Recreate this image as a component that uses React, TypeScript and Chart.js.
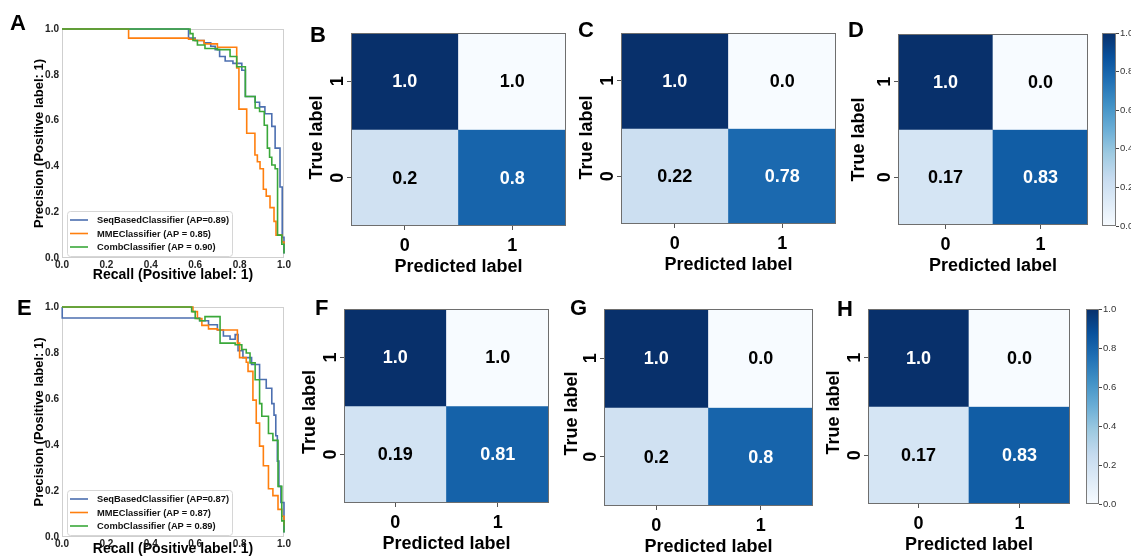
import React, { useEffect, useRef } from "react";
import { Chart, registerables } from "chart.js";

Chart.register(...registerables);

const FONT = "'Liberation Sans', Arial, Helvetica, sans-serif";
Chart.defaults.font.family = FONT;
Chart.defaults.color = "#000";

// ---------------- DATA ----------------
const PR_TICKS = [0, 0.2, 0.4, 0.6, 0.8, 1.0];
const CB_TICKS = [0, 0.2, 0.4, 0.6, 0.8, 1.0];
const PRED_LABELS = ["0", "1"];
const TRUE_LABELS = [1, 0]; // top row, bottom row

const LEGEND_TOP = ["SeqBasedClassifier (AP=0.89)", "MMEClassifier (AP = 0.85)", "CombClassifier (AP = 0.90)"];
const LEGEND_BOTTOM = ["SeqBasedClassifier (AP=0.87)", "MMEClassifier (AP = 0.87)", "CombClassifier (AP = 0.89)"];

const A_SEQ_R = [0, 0.57, 0.6, 0.64, 0.67, 0.69, 0.71, 0.735, 0.77, 0.81, 0.826, 0.87, 0.89, 0.914, 0.945, 0.96, 0.982, 0.992, 1.0];
const A_SEQ_P = [1.0, 0.96, 0.95, 0.94, 0.925, 0.91, 0.88, 0.86, 0.85, 0.82, 0.705, 0.68, 0.66, 0.63, 0.575, 0.48, 0.31, 0.09, 0.02];
const A_MME_R = [0, 0.3, 0.57, 0.6, 0.64, 0.7, 0.787, 0.797, 0.832, 0.869, 0.88, 0.892, 0.907, 0.92, 0.937, 0.955, 0.964, 0.99, 1.0];
const A_MME_P = [1.0, 0.96, 0.955, 0.95, 0.935, 0.92, 0.83, 0.65, 0.545, 0.45, 0.42, 0.39, 0.3, 0.27, 0.22, 0.16, 0.1, 0.07, 0.06];
const A_COMB_R = [0, 0.577, 0.59, 0.61, 0.644, 0.7, 0.757, 0.787, 0.826, 0.87, 0.89, 0.911, 0.925, 0.935, 0.945, 0.96, 0.971, 0.99, 1.0];
const A_COMB_P = [1.0, 0.98, 0.95, 0.93, 0.915, 0.91, 0.88, 0.835, 0.705, 0.655, 0.64, 0.58, 0.48, 0.44, 0.406, 0.39, 0.1, 0.06, 0.02];

const E_SEQ_R = [0, 0.001, 0.62, 0.66, 0.7, 0.727, 0.757, 0.78, 0.793, 0.815, 0.854, 0.89, 0.92, 0.945, 0.955, 0.963, 0.97, 0.977, 0.986, 1.0];
const E_SEQ_P = [1.0, 0.952, 0.94, 0.923, 0.9, 0.874, 0.86, 0.88, 0.81, 0.78, 0.75, 0.685, 0.647, 0.58, 0.53, 0.44, 0.33, 0.22, 0.15, 0.02];
const E_MME_R = [0, 0.59, 0.61, 0.63, 0.66, 0.7, 0.79, 0.8, 0.83, 0.838, 0.86, 0.875, 0.89, 0.907, 0.93, 0.95, 0.973, 0.99, 1.0];
const E_MME_P = [1.0, 0.98, 0.95, 0.92, 0.905, 0.9, 0.843, 0.78, 0.76, 0.72, 0.595, 0.495, 0.395, 0.31, 0.21, 0.18, 0.12, 0.09, 0.05];
const E_COMB_R = [0, 0.584, 0.6, 0.62, 0.644, 0.712, 0.78, 0.81, 0.83, 0.847, 0.87, 0.89, 0.9, 0.93, 0.95, 0.973, 0.99, 1.0];
const E_COMB_P = [1.0, 0.98, 0.95, 0.94, 0.958, 0.843, 0.836, 0.815, 0.8, 0.757, 0.684, 0.58, 0.525, 0.45, 0.42, 0.22, 0.07, 0.02];

// confusion matrices: rows = TRUE_LABELS order (1 on top, 0 below), cols = PRED_LABELS
const B_TEXT = [["1.0", "1.0"], ["0.2", "0.8"]];
const B_SHADE = [[1.0, 0.0], [0.2, 0.8]];
const C_TEXT = [["1.0", "0.0"], ["0.22", "0.78"]];
const C_SHADE = [[1.0, 0.0], [0.22, 0.78]];
const D_TEXT = [["1.0", "0.0"], ["0.17", "0.83"]];
const D_SHADE = [[1.0, 0.0], [0.17, 0.83]];
const F_TEXT = [["1.0", "1.0"], ["0.19", "0.81"]];
const F_SHADE = [[1.0, 0.0], [0.19, 0.81]];
const G_TEXT = [["1.0", "0.0"], ["0.2", "0.8"]];
const G_SHADE = [[1.0, 0.0], [0.2, 0.8]];
const H_TEXT = [["1.0", "0.0"], ["0.17", "0.83"]];
const H_SHADE = [[1.0, 0.0], [0.17, 0.83]];

// ---------------- STYLE ----------------
const LINE_COLORS = ["#4c6fb0", "#ff7f0e", "#3aa83a"];
const BLUES = ["#f7fbff", "#deebf7", "#c6dbef", "#9ecae1", "#6baed6", "#4292c6", "#2171b5", "#08519c", "#08306b"];

function hexToRgb(h: string) {
  const n = parseInt(h.slice(1), 16);
  return [(n >> 16) & 255, (n >> 8) & 255, n & 255];
}
function blues(v: number) {
  const t = Math.max(0, Math.min(1, v)) * (BLUES.length - 1);
  const i = Math.min(Math.floor(t), BLUES.length - 2);
  const f = t - i;
  const a = hexToRgb(BLUES[i]);
  const b = hexToRgb(BLUES[i + 1]);
  const c = a.map((x, k) => Math.round(x + (b[k] - x) * f));
  return `rgb(${c[0]},${c[1]},${c[2]})`;
}

type Rect = { x: number; y: number; w: number; h: number };
type Area = { l: number; t: number; r: number; b: number };

function drawLetter(chart: any, letter: string, lx: number, ly: number, cx: number, cy: number) {
  const ctx = chart.ctx;
  ctx.save();
  ctx.font = `bold 22px ${FONT}`;
  ctx.fillStyle = "#000";
  ctx.textAlign = "left";
  ctx.textBaseline = "alphabetic";
  ctx.fillText(letter, lx - cx, ly - cy);
  ctx.restore();
}

// ---------------- PR PANELS ----------------
const prPlugin = {
  id: "prDecor",
  beforeDatasetsDraw(chart: any) {
    const { ctx, chartArea: a } = chart;
    ctx.save();
    ctx.strokeStyle = "#cfcfcf";
    ctx.lineWidth = 1;
    ctx.strokeRect(a.left + 0.5, a.top + 0.5, a.right - a.left - 1, a.bottom - a.top - 1);
    ctx.restore();
  },
  afterDatasetsDraw(chart: any, _args: any, opts: any) {
    const { ctx, chartArea: a } = chart;
    ctx.save();
    const bx = a.left + 5, by = a.bottom - 47, bw = 165, bh = 45;
    ctx.fillStyle = "rgba(255,255,255,0.85)";
    ctx.strokeStyle = "#d6d6d6";
    ctx.lineWidth = 1;
    ctx.beginPath();
    (ctx as any).roundRect ? ctx.roundRect(bx + 0.5, by + 0.5, bw, bh, 3) : ctx.rect(bx + 0.5, by + 0.5, bw, bh);
    ctx.fill();
    ctx.stroke();
    ctx.font = `bold 9.3px ${FONT}`;
    ctx.textBaseline = "middle";
    ctx.textAlign = "left";
    opts.labels.forEach((lab: string, k: number) => {
      const yy = by + 9 + k * 13.5;
      ctx.strokeStyle = LINE_COLORS[k];
      ctx.lineWidth = 1.6;
      ctx.beginPath();
      ctx.moveTo(bx + 3, yy);
      ctx.lineTo(bx + 21, yy);
      ctx.stroke();
      ctx.fillStyle = "#111";
      ctx.fillText(lab, bx + 30, yy + 0.5);
    });
    ctx.restore();
    drawLetter(chart, opts.letter, opts.lx, opts.ly, opts.cx, opts.cy);
  },
};

type PRPanel = {
  letter: string; lx: number; ly: number; canvas: Rect; area: Area;
  series: { r: number[]; p: number[] }[]; legend: string[];
};

const PR_PANELS: PRPanel[] = [
  {
    letter: "A", lx: 10, ly: 30,
    canvas: { x: 0, y: 0, w: 295, h: 284 }, area: { l: 62, t: 29, r: 284, b: 258 },
    series: [{ r: A_SEQ_R, p: A_SEQ_P }, { r: A_MME_R, p: A_MME_P }, { r: A_COMB_R, p: A_COMB_P }],
    legend: LEGEND_TOP,
  },
  {
    letter: "E", lx: 17, ly: 315,
    canvas: { x: 0, y: 284, w: 295, h: 274 }, area: { l: 62, t: 307, r: 284, b: 537 },
    series: [{ r: E_SEQ_R, p: E_SEQ_P }, { r: E_MME_R, p: E_MME_P }, { r: E_COMB_R, p: E_COMB_P }],
    legend: LEGEND_BOTTOM,
  },
];

function prConfig(p: PRPanel): any {
  const c = p.canvas, a = p.area;
  const n = p.series.length;
  return {
    type: "scatter",
    data: {
      datasets: p.series.map((s, k) => ({
        label: p.legend[k],
        data: s.r.map((x, i) => ({ x, y: s.p[i] })),
        showLine: true,
        stepped: "before",
        borderColor: LINE_COLORS[k],
        backgroundColor: LINE_COLORS[k],
        borderWidth: 1.6,
        pointRadius: 0,
        fill: false,
        clip: 3,
        order: n - 1 - k,
      })),
    },
    options: {
      responsive: false,
      animation: false,
      devicePixelRatio: 1,
      events: [],
      layout: { padding: { left: 0, top: a.t - c.y, right: c.x + c.w - a.r, bottom: 0 } },
      plugins: {
        legend: { display: false },
        tooltip: { enabled: false },
        prDecor: { labels: p.legend, letter: p.letter, lx: p.lx, ly: p.ly, cx: c.x, cy: c.y },
      },
      scales: {
        x: {
          type: "linear", min: 0, max: 1, bounds: "data",
          afterBuildTicks: (s: any) => { s.ticks = PR_TICKS.map((v) => ({ value: v })); },
          afterFit: (s: any) => { s.height = c.y + c.h - a.b; },
          grid: { display: false, drawTicks: false },
          border: { display: false },
          ticks: { autoSkip: false, maxRotation: 0, padding: 1, color: "#222", font: { size: 10, weight: "bold" }, callback: (v: any) => Number(v).toFixed(1) },
          title: { display: true, text: "Recall (Positive label: 1)", color: "#000", font: { size: 14, weight: "bold" }, padding: { top: 0, bottom: 0 } },
        },
        y: {
          type: "linear", min: 0, max: 1, bounds: "data",
          afterBuildTicks: (s: any) => { s.ticks = PR_TICKS.map((v) => ({ value: v })); },
          afterFit: (s: any) => { s.width = a.l - c.x; },
          grid: { display: false, drawTicks: false },
          border: { display: false },
          ticks: { autoSkip: false, padding: 3, color: "#222", font: { size: 10, weight: "bold" }, callback: (v: any) => Number(v).toFixed(1) },
          title: { display: true, text: "Precision (Positive label: 1)", color: "#000", font: { size: 13, weight: "bold" }, padding: { top: 32, bottom: 0 } },
        },
      },
    },
    plugins: [prPlugin],
  };
}

// ---------------- CONFUSION MATRICES ----------------
const matrixPlugin = {
  id: "matrixDecor",
  afterDatasetsDraw(chart: any, _args: any, opts: any) {
    const { ctx, chartArea: a, scales } = chart;
    const xs = scales.x, ys = scales.y;
    ctx.save();
    ctx.font = `bold 18px ${FONT}`;
    ctx.textAlign = "center";
    ctx.textBaseline = "middle";
    opts.text.forEach((row: string[], i: number) =>
      row.forEach((t: string, j: number) => {
        ctx.fillStyle = opts.shade[i][j] > 0.5 ? "#ffffff" : "#000000";
        ctx.fillText(t, xs.getPixelForValue(j), ys.getPixelForValue(TRUE_LABELS[i]) + 1);
      })
    );
    ctx.strokeStyle = "#6e6e6e";
    ctx.lineWidth = 1;
    ctx.strokeRect(a.left + 0.5, a.top + 0.5, a.right - a.left - 1, a.bottom - a.top - 1);
    ctx.fillStyle = "#000";
    TRUE_LABELS.forEach((v) => {
      ctx.save();
      ctx.translate(a.left - 13, ys.getPixelForValue(v));
      ctx.rotate(-Math.PI / 2);
      ctx.fillText(String(v), 0, 0);
      ctx.restore();
    });
    ctx.save();
    ctx.translate(a.left + opts.titleDx, (a.top + a.bottom) / 2 + opts.titleDy);
    ctx.rotate(-Math.PI / 2);
    ctx.fillText("True label", 0, 0);
    ctx.restore();
    ctx.restore();
    drawLetter(chart, opts.letter, opts.lx, opts.ly, opts.cx, opts.cy);
  },
};

type MatrixPanel = {
  letter: string; lx: number; ly: number; canvas: Rect; grid: Area;
  text: string[][]; shade: number[][]; titleDx: number; titleDy: number;
};

const MATRICES: MatrixPanel[] = [
  { letter: "B", lx: 310, ly: 42, canvas: { x: 290, y: 0, w: 290, h: 280 }, grid: { l: 351, t: 33, r: 566, b: 226 }, text: B_TEXT, shade: B_SHADE, titleDx: -34, titleDy: 8 },
  { letter: "C", lx: 578, ly: 37, canvas: { x: 570, y: 0, w: 270, h: 280 }, grid: { l: 621, t: 33, r: 836, b: 224 }, text: C_TEXT, shade: C_SHADE, titleDx: -34, titleDy: 9 },
  { letter: "D", lx: 848, ly: 37, canvas: { x: 840, y: 0, w: 252, h: 280 }, grid: { l: 898, t: 34, r: 1088, b: 225 }, text: D_TEXT, shade: D_SHADE, titleDx: -39, titleDy: 10 },
  { letter: "F", lx: 315, ly: 315, canvas: { x: 290, y: 280, w: 280, h: 278 }, grid: { l: 344, t: 309, r: 549, b: 503 }, text: F_TEXT, shade: F_SHADE, titleDx: -34, titleDy: 6 },
  { letter: "G", lx: 570, ly: 315, canvas: { x: 555, y: 280, w: 275, h: 278 }, grid: { l: 604, t: 309, r: 813, b: 506 }, text: G_TEXT, shade: G_SHADE, titleDx: -32, titleDy: 6 },
  { letter: "H", lx: 837, ly: 316, canvas: { x: 818, y: 280, w: 257, h: 278 }, grid: { l: 868, t: 309, r: 1070, b: 504 }, text: H_TEXT, shade: H_SHADE, titleDx: -34, titleDy: 6 },
];

function matrixConfig(m: MatrixPanel): any {
  const c = m.canvas, g = m.grid;
  const xh = c.y + c.h - g.b;
  return {
    type: "bar",
    data: {
      labels: PRED_LABELS,
      datasets: TRUE_LABELS.map((t, i) => ({
        data: PRED_LABELS.map(() => [t - 0.5, t + 0.5]),
        backgroundColor: m.shade[i].map((v) => blues(v)),
        borderWidth: 0,
        grouped: false,
        barPercentage: 1,
        categoryPercentage: 1,
      })),
    },
    options: {
      responsive: false,
      animation: false,
      devicePixelRatio: 1,
      events: [],
      layout: { padding: { left: 0, top: g.t - c.y, right: c.x + c.w - g.r, bottom: 0 } },
      plugins: {
        legend: { display: false },
        tooltip: { enabled: false },
        matrixDecor: { text: m.text, shade: m.shade, letter: m.letter, lx: m.lx, ly: m.ly, cx: c.x, cy: c.y, titleDx: m.titleDx, titleDy: m.titleDy },
      },
      scales: {
        x: {
          type: "category",
          offset: true,
          afterFit: (s: any) => { s.height = xh; },
          grid: { display: true, offset: false, drawOnChartArea: false, drawTicks: true, tickLength: 4, color: "#555" },
          border: { display: false },
          ticks: { padding: 5, color: "#000", font: { size: 18, weight: "bold" }, maxRotation: 0 },
          title: { display: true, text: "Predicted label", color: "#000", font: { size: 18, weight: "bold" }, padding: { top: 0, bottom: Math.max(0, xh - 41 - 10.8) } },
        },
        y: {
          type: "linear", min: -0.5, max: 1.5, bounds: "data",
          afterBuildTicks: (s: any) => { s.ticks = TRUE_LABELS.map((v) => ({ value: v })); },
          afterFit: (s: any) => { s.width = g.l - c.x; },
          grid: { display: true, drawOnChartArea: false, drawTicks: true, tickLength: 4, color: "#555" },
          border: { display: false },
          ticks: { display: false },
          title: { display: false },
        },
      },
    },
    plugins: [matrixPlugin],
  };
}

// ---------------- COLORBARS ----------------
const cbPlugin = {
  id: "cbFrame",
  afterDatasetsDraw(chart: any) {
    const { ctx, chartArea: a } = chart;
    ctx.save();
    ctx.strokeStyle = "#7a7a7a";
    ctx.lineWidth = 1;
    ctx.strokeRect(a.left + 0.5, a.top + 0.5, a.right - a.left - 1, a.bottom - a.top - 1);
    ctx.restore();
  },
};

type CBPanel = { canvas: Rect; bar: Area };
const COLORBARS: CBPanel[] = [
  { canvas: { x: 1092, y: 0, w: 39, h: 280 }, bar: { l: 1102, t: 33, r: 1116, b: 226 } },
  { canvas: { x: 1078, y: 280, w: 53, h: 278 }, bar: { l: 1086, t: 309, r: 1099, b: 504 } },
];

function cbConfig(p: CBPanel): any {
  const c = p.canvas, g = p.bar;
  return {
    type: "bar",
    data: {
      labels: [""],
      datasets: [{
        data: [CB_TICKS[CB_TICKS.length - 1]],
        borderWidth: 0,
        barPercentage: 1,
        categoryPercentage: 1,
        backgroundColor: (ctx: any) => {
          const ch = ctx.chart;
          const a = ch.chartArea;
          if (!a) return BLUES[4];
          const gr = ch.ctx.createLinearGradient(0, a.bottom, 0, a.top);
          BLUES.forEach((col, i) => gr.addColorStop(i / (BLUES.length - 1), col));
          return gr;
        },
      }],
    },
    options: {
      responsive: false,
      animation: false,
      devicePixelRatio: 1,
      events: [],
      layout: { padding: { left: g.l - c.x, top: g.t - c.y, right: 0, bottom: c.y + c.h - g.b } },
      plugins: { legend: { display: false }, tooltip: { enabled: false } },
      scales: {
        x: { display: false },
        y: {
          position: "right", min: 0, max: 1, bounds: "data",
          afterBuildTicks: (s: any) => { s.ticks = CB_TICKS.map((v) => ({ value: v })); },
          afterFit: (s: any) => { s.width = c.x + c.w - g.r; },
          grid: { display: true, drawOnChartArea: false, drawTicks: true, tickLength: 3, color: "#444" },
          border: { display: false },
          ticks: { padding: 1, color: "#333", font: { size: 9.5 }, callback: (v: any) => Number(v).toFixed(1) },
        },
      },
    },
    plugins: [cbPlugin],
  };
}

// ---------------- COMPONENTS ----------------
function ChartBox({ rect, build }: { rect: Rect; build: () => any }) {
  const ref = useRef<HTMLCanvasElement | null>(null);
  useEffect(() => {
    const el = ref.current;
    if (!el) return;
    const chart = new Chart(el, build());
    return () => chart.destroy();
  }, []);
  return (
    <canvas
      ref={ref}
      width={rect.w}
      height={rect.h}
      style={{ position: "absolute", left: rect.x, top: rect.y, width: rect.w, height: rect.h }}
    />
  );
}

export default function App() {
  return (
    <div style={{ position: "absolute", left: 0, top: 0, width: 1131, height: 558, background: "#fff", overflow: "hidden" }}>
      {PR_PANELS.map((p) => (
        <ChartBox key={p.letter} rect={p.canvas} build={() => prConfig(p)} />
      ))}
      {MATRICES.map((m) => (
        <ChartBox key={m.letter} rect={m.canvas} build={() => matrixConfig(m)} />
      ))}
      {COLORBARS.map((cb, i) => (
        <ChartBox key={"cb" + i} rect={cb.canvas} build={() => cbConfig(cb)} />
      ))}
    </div>
  );
}
